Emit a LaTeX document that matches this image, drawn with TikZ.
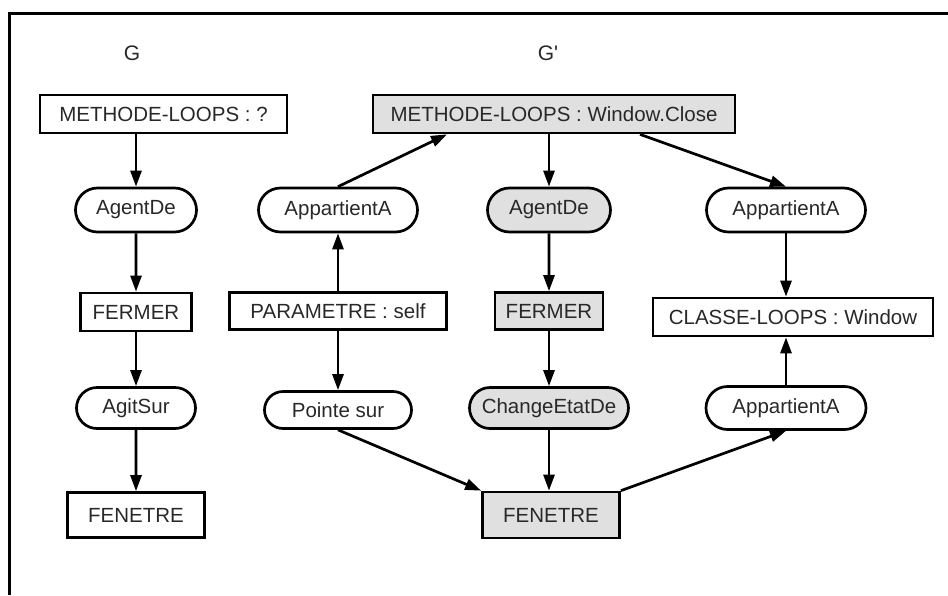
\documentclass[tikz,border=0pt]{standalone}
\usepackage{fontspec}
\setmainfont{Liberation Sans}
\usetikzlibrary{arrows.meta,calc,shapes.misc}
\definecolor{markgray}{RGB}{224,224,224}
\definecolor{inkgray}{RGB}{40,40,40}
\tikzset{
  link/.style={-{Triangle[length=16pt,width=11pt]},line width=2.7pt},
  concept/.style={draw=black,line width=2.7pt,rectangle,minimum height=38pt,
                  inner sep=2pt,text=inkgray,font=\fontsize{20.5}{23}\selectfont},
  relation/.style={concept,rounded rectangle,minimum height=44pt},
  marked/.style={fill=markgray},
  graphname/.style={text=inkgray,font=\fontsize{21}{24}\selectfont},
}
\begin{document}
\begin{tikzpicture}[x=1pt,y=-1pt]
  \path[use as bounding box] (0,0) rectangle (948,595);
  \draw[line width=3pt] (9,595) -- (9,13) -- (948,13);

  \node[graphname] (gname) at (132,53) {G};
  \node[graphname] (gpname) at (548,53) {G\textquotesingle};

  % graph G
  \node[concept,minimum width=247pt] (mG) at (163.5,114) {METHODE-LOOPS : ?};
  \node[relation,minimum width=125pt] (agentG) at (136,210) {AgentDe};
  \node[concept,minimum width=111pt] (fermerG) at (136,312) {FERMER};
  \node[relation,minimum width=123pt,minimum height=41pt] (agitG) at (136,408) {AgitSur};
  \node[concept,minimum width=137pt,minimum height=45pt] (fenG) at (136,515) {FENETRE};

  \draw[link] (agentG |- mG.south) -- (agentG.north);
  \draw[link] (agentG) -- (fermerG);
  \draw[link] (fermerG) -- (agitG);
  \draw[link] (agitG) -- (fenG);

  % graph G'
  \node[concept,marked,minimum width=362pt] (mGp) at (554,114) {METHODE-LOOPS : Window.Close};
  \node[relation,minimum width=163pt] (appL) at (338,210) {AppartientA};
  \node[relation,marked,minimum width=127pt] (agentGp) at (549,210) {AgentDe};
  \node[relation,minimum width=163pt] (appR) at (786,210) {AppartientA};
  \node[concept,minimum width=217pt,minimum height=37pt] (param) at (338,311) {PARAMETRE : self};
  \node[concept,marked,minimum width=108pt,minimum height=37pt] (fermerGp) at (549,311) {FERMER};
  \node[concept,minimum width=280pt] (classe) at (793,317) {CLASSE-LOOPS : Window};
  \node[relation,minimum width=151pt,minimum height=37pt] (pointe) at (338,410) {Pointe sur};
  \node[relation,marked,minimum width=163pt,minimum height=41pt] (change) at (549,408) {ChangeEtatDe};
  \node[relation,minimum width=164pt,minimum height=43pt] (appB) at (786,408) {AppartientA};
  \node[concept,marked,minimum width=137pt,minimum height=46pt] (fenGp) at (551,515) {FENETRE};

  \draw[link] (appL.north) -- ([xshift=-107pt]mGp.south);
  \draw[link] (agentGp |- mGp.south) -- (agentGp.north);
  \draw[link] ([xshift=86pt]mGp.south) -- (appR.north);
  \draw[link] (param) -- (appL);
  \draw[link] (param) -- (pointe);
  \draw[link] (agentGp) -- (fermerGp);
  \draw[link] (fermerGp) -- (change);
  \draw[link] (change.south) -- (change.south |- fenGp.north);
  \draw[link] (appR.south) -- (appR.south |- classe.north);
  \draw[link] (appB.north) -- (appB.north |- classe.south);
  \draw[link] (pointe.south) -- (fenGp.north west);
  \draw[link] (fenGp.north east) -- (appB.south);
\end{tikzpicture}
\end{document}
